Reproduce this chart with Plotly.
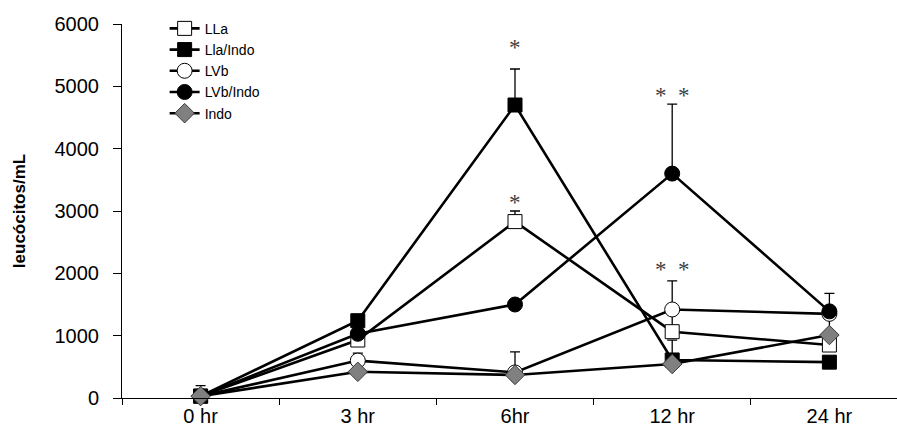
import plotly.graph_objects as go

# ---- data ----
categories = ["0 hr", "3 hr", "6hr", "12 hr", "24 hr"]

series_names = ["LLa", "Lla/Indo", "LVb", "LVb/Indo", "Indo"]

lla_vals = [30, 930, 2830, 1064, 850]
lla_err = [170, 60, 170, 330, 520]

llaindo_vals = [30, 1240, 4700, 610, 575]
llaindo_err = [0, 0, 578, 320, 0]

lvb_vals = [30, 600, 410, 1420, 1350]
lvb_err = [0, 120, 330, 460, 0]

lvbindo_vals = [30, 1030, 1500, 3600, 1390]
lvbindo_err = [0, 0, 0, 1115, 290]

indo_vals = [30, 420, 370, 545, 1010]
indo_err = [0, 0, 0, 0, 0]

# significance marks: (category, y value, text)
star_cats = ["6hr", "6hr", "12 hr", "12 hr"]
star_vals = [5620, 3140, 4860, 2060]
star_text = ["*", "*", "*  *", "*  *"]

y_ticks = [0, 1000, 2000, 3000, 4000, 5000, 6000]

# ---- styles ----
styles = {
    "LLa": dict(symbol="square", color="white", size=14),
    "Lla/Indo": dict(symbol="square", color="black", size=14),
    "LVb": dict(symbol="circle", color="white", size=15),
    "LVb/Indo": dict(symbol="circle", color="black", size=15),
    "Indo": dict(symbol="diamond", color="#808080", size=15),
}

all_vals = [lla_vals, llaindo_vals, lvb_vals, lvbindo_vals, indo_vals]
all_errs = [lla_err, llaindo_err, lvb_err, lvbindo_err, indo_err]

fig = go.Figure()
for name, vals, errs in zip(series_names, all_vals, all_errs):
    st = styles[name]
    outline = "#3a3a3a" if name == "Indo" else "black"
    fig.add_trace(go.Scatter(
        x=categories, y=vals, name=name, mode="lines+markers",
        line=dict(color="black", width=2.6),
        marker=dict(symbol=st["symbol"], size=st["size"], color=st["color"],
                    line=dict(color=outline, width=1)),
        error_y=dict(type="data", array=errs, arrayminus=[0] * len(errs),
                     symmetric=False, color="black", thickness=1.3, width=5),
        cliponaxis=False,
    ))

for c, v, t in zip(star_cats, star_vals, star_text):
    fig.add_annotation(x=c, y=v, text=t, showarrow=False,
                       font=dict(family="Liberation Serif", size=23, color="#404040"),
                       yanchor="middle", xanchor="center")

fig.update_layout(
    width=897, height=437,
    margin=dict(l=122, r=0, t=24, b=39),
    paper_bgcolor="white", plot_bgcolor="white",
    font=dict(family="Liberation Sans, Arial, sans-serif", color="black", size=20),
    showlegend=True,
    legend=dict(x=0.055, y=1.03, xanchor="left", yanchor="top",
                bgcolor="rgba(0,0,0,0)", font=dict(size=14),
                itemwidth=30, tracegroupgap=0),
)
fig.update_xaxes(
    type="category", categoryarray=categories, range=[-0.5, 4.43],
    tickson="boundaries", ticks="outside", ticklen=6, tickwidth=1, tickcolor="black",
    showline=True, linecolor="black", linewidth=1, showgrid=False, zeroline=False,
    tickfont=dict(size=20),
)
fig.update_yaxes(
    range=[0, 6000], tickvals=y_ticks, ticks="outside", ticklen=8, tickwidth=1,
    tickcolor="black", showline=True, linecolor="black", linewidth=1,
    showgrid=False, zeroline=False, tickfont=dict(size=20), ticklabelstandoff=10,
    title=dict(text="<b>leucócitos/mL</b>", font=dict(size=17), standoff=24),
)

fig.write_html("out.html")
